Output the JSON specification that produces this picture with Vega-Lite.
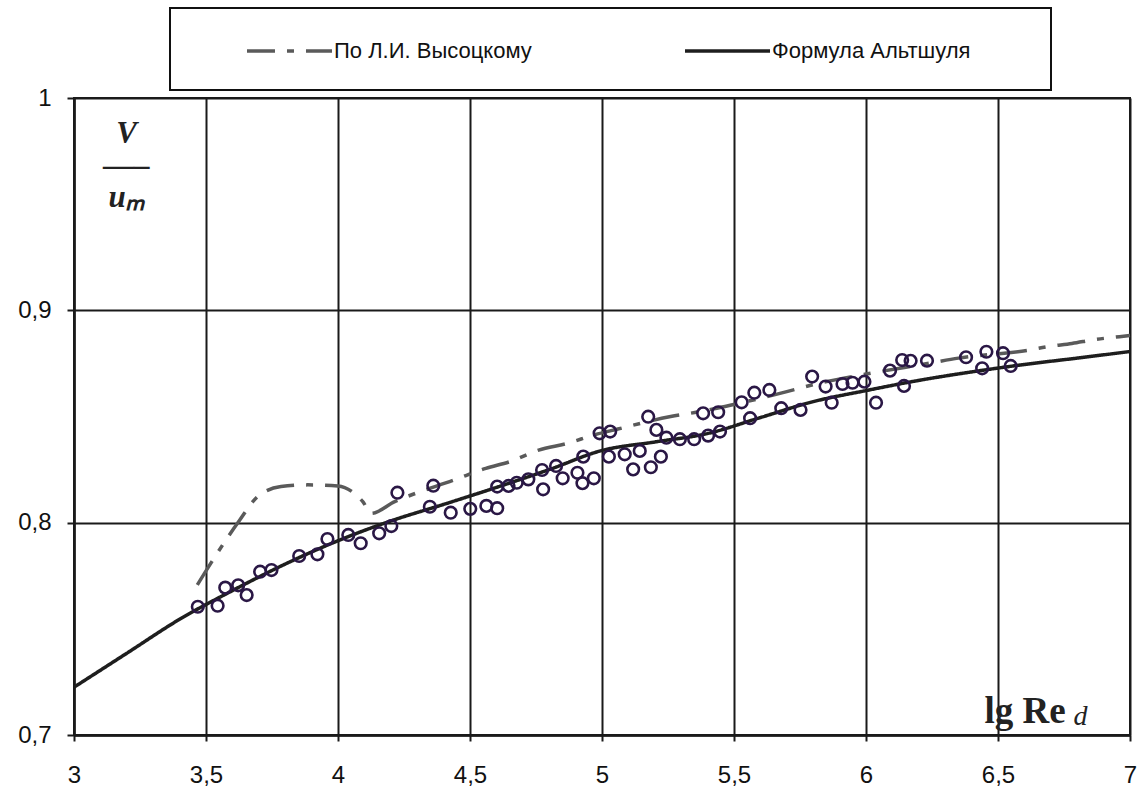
{
  "$schema": "https://vega.github.io/schema/vega-lite/v6.json",
  "width": 1056,
  "height": 637,
  "autosize": "none",
  "padding": {"left": 74, "top": 98, "right": 12, "bottom": 59},
  "background": "white",
  "config": {"view": {"stroke": "#1a1a1a", "strokeWidth": 2}, "font": "Liberation Sans", "legend": {"strokeWidth": 2}},
  "datasets": {
    "points": [
      {"x": 3.469, "y": 0.7604}, {"x": 3.544, "y": 0.7609}, {"x": 3.573, "y": 0.7694}, {"x": 3.622, "y": 0.7705},
      {"x": 3.654, "y": 0.7659}, {"x": 3.705, "y": 0.7769}, {"x": 3.748, "y": 0.7777}, {"x": 3.853, "y": 0.7843},
      {"x": 3.922, "y": 0.7851}, {"x": 3.96, "y": 0.7923}, {"x": 4.039, "y": 0.7942}, {"x": 4.086, "y": 0.7903},
      {"x": 4.156, "y": 0.795}, {"x": 4.202, "y": 0.7984}, {"x": 4.225, "y": 0.8141},
      {"x": 4.361, "y": 0.8174}, {"x": 4.348, "y": 0.8075}, {"x": 4.427, "y": 0.8047}, {"x": 4.501, "y": 0.8065},
      {"x": 4.562, "y": 0.8079}, {"x": 4.603, "y": 0.8068}, {"x": 4.603, "y": 0.817}, {"x": 4.646, "y": 0.8173},
      {"x": 4.677, "y": 0.8188}, {"x": 4.721, "y": 0.8204}, {"x": 4.773, "y": 0.8248}, {"x": 4.777, "y": 0.8157},
      {"x": 4.851, "y": 0.8209}, {"x": 4.826, "y": 0.8267}, {"x": 4.907, "y": 0.8235}, {"x": 4.926, "y": 0.8186},
      {"x": 4.969, "y": 0.8209}, {"x": 4.929, "y": 0.8311}, {"x": 4.991, "y": 0.8421}, {"x": 5.031, "y": 0.8429},
      {"x": 5.026, "y": 0.8311},
      {"x": 5.086, "y": 0.8322}, {"x": 5.118, "y": 0.8251}, {"x": 5.143, "y": 0.8338}, {"x": 5.185, "y": 0.8261},
      {"x": 5.223, "y": 0.8311}, {"x": 5.175, "y": 0.8499}, {"x": 5.206, "y": 0.8437}, {"x": 5.244, "y": 0.84},
      {"x": 5.295, "y": 0.8393}, {"x": 5.349, "y": 0.8393}, {"x": 5.402, "y": 0.841}, {"x": 5.447, "y": 0.8429},
      {"x": 5.383, "y": 0.8515}, {"x": 5.44, "y": 0.852}, {"x": 5.529, "y": 0.8567}, {"x": 5.561, "y": 0.8492},
      {"x": 5.577, "y": 0.8612}, {"x": 5.634, "y": 0.8625}, {"x": 5.679, "y": 0.8539}, {"x": 5.752, "y": 0.8531},
      {"x": 5.796, "y": 0.8688},
      {"x": 5.847, "y": 0.8641}, {"x": 5.87, "y": 0.8565}, {"x": 5.911, "y": 0.8653}, {"x": 5.949, "y": 0.8659},
      {"x": 5.994, "y": 0.8664}, {"x": 6.038, "y": 0.8565}, {"x": 6.091, "y": 0.8716}, {"x": 6.144, "y": 0.8644},
      {"x": 6.137, "y": 0.8766}, {"x": 6.169, "y": 0.8762}, {"x": 6.231, "y": 0.8763}, {"x": 6.379, "y": 0.8779},
      {"x": 6.456, "y": 0.8805}, {"x": 6.44, "y": 0.8727}, {"x": 6.519, "y": 0.8798}, {"x": 6.548, "y": 0.8738}
    ],
    "curves": [
      {"series": "По Л.И. Высоцкому", "x": 3.467, "y": 0.7707},
      {"series": "По Л.И. Высоцкому", "x": 3.53, "y": 0.7832},
      {"series": "По Л.И. Высоцкому", "x": 3.58, "y": 0.7927},
      {"series": "По Л.И. Высоцкому", "x": 3.626, "y": 0.8009},
      {"series": "По Л.И. Высоцкому", "x": 3.695, "y": 0.8122},
      {"series": "По Л.И. Высоцкому", "x": 3.784, "y": 0.817},
      {"series": "По Л.И. Высоцкому", "x": 3.885, "y": 0.8178},
      {"series": "По Л.И. Высоцкому", "x": 4.0, "y": 0.8173},
      {"series": "По Л.И. Высоцкому", "x": 4.062, "y": 0.8138},
      {"series": "По Л.И. Высоцкому", "x": 4.094, "y": 0.8099},
      {"series": "По Л.И. Высоцкому", "x": 4.126, "y": 0.8044},
      {"series": "По Л.И. Высоцкому", "x": 4.215, "y": 0.8099},
      {"series": "По Л.И. Высоцкому", "x": 4.26, "y": 0.8122},
      {"series": "По Л.И. Высоцкому", "x": 4.44, "y": 0.8201},
      {"series": "По Л.И. Высоцкому", "x": 4.56, "y": 0.8256},
      {"series": "По Л.И. Высоцкому", "x": 4.65, "y": 0.8287},
      {"series": "По Л.И. Высоцкому", "x": 4.76, "y": 0.8342},
      {"series": "По Л.И. Высоцкому", "x": 4.87, "y": 0.8374},
      {"series": "По Л.И. Высоцкому", "x": 4.97, "y": 0.8413},
      {"series": "По Л.И. Высоцкому", "x": 5.06, "y": 0.8441},
      {"series": "По Л.И. Высоцкому", "x": 5.26, "y": 0.85},
      {"series": "По Л.И. Высоцкому", "x": 5.37, "y": 0.8523},
      {"series": "По Л.И. Высоцкому", "x": 5.49, "y": 0.8554},
      {"series": "По Л.И. Высоцкому", "x": 5.7, "y": 0.8617},
      {"series": "По Л.И. Высоцкому", "x": 5.82, "y": 0.8656},
      {"series": "По Л.И. Высоцкому", "x": 6.0, "y": 0.87},
      {"series": "По Л.И. Высоцкому", "x": 6.24, "y": 0.8751},
      {"series": "По Л.И. Высоцкому", "x": 6.35, "y": 0.8775},
      {"series": "По Л.И. Высоцкому", "x": 6.61, "y": 0.8811},
      {"series": "По Л.И. Высоцкому", "x": 6.69, "y": 0.8829},
      {"series": "По Л.И. Высоцкому", "x": 6.78, "y": 0.8844},
      {"series": "По Л.И. Высоцкому", "x": 6.87, "y": 0.8863},
      {"series": "По Л.И. Высоцкому", "x": 6.96, "y": 0.8876},
      {"series": "По Л.И. Высоцкому", "x": 7.0, "y": 0.8882},
      {"series": "Формула Альтшуля", "x": 3.0, "y": 0.7225},
      {"series": "Формула Альтшуля", "x": 3.2, "y": 0.7385},
      {"series": "Формула Альтшуля", "x": 3.4, "y": 0.7545},
      {"series": "Формула Альтшуля", "x": 3.6, "y": 0.768},
      {"series": "Формула Альтшуля", "x": 3.8, "y": 0.7805},
      {"series": "Формула Альтшуля", "x": 4.0, "y": 0.7915},
      {"series": "Формула Альтшуля", "x": 4.2, "y": 0.8008},
      {"series": "Формула Альтшуля", "x": 4.4, "y": 0.8086},
      {"series": "Формула Альтшуля", "x": 4.6, "y": 0.8166},
      {"series": "Формула Альтшуля", "x": 4.8, "y": 0.825},
      {"series": "Формула Альтшуля", "x": 5.0, "y": 0.834},
      {"series": "Формула Альтшуля", "x": 5.2, "y": 0.838},
      {"series": "Формула Альтшуля", "x": 5.4, "y": 0.842},
      {"series": "Формула Альтшуля", "x": 5.6, "y": 0.8495},
      {"series": "Формула Альтшуля", "x": 5.8, "y": 0.857},
      {"series": "Формула Альтшуля", "x": 6.0, "y": 0.8622},
      {"series": "Формула Альтшуля", "x": 6.2, "y": 0.867},
      {"series": "Формула Альтшуля", "x": 6.4, "y": 0.871},
      {"series": "Формула Альтшуля", "x": 6.6, "y": 0.8745},
      {"series": "Формула Альтшуля", "x": 6.8, "y": 0.8775},
      {"series": "Формула Альтшуля", "x": 7.0, "y": 0.8806}
    ]
  },
  "layer": [
    {
      "layer": [
        {
          "data": {"name": "curves"},
          "mark": {"type": "line", "interpolate": "monotone", "strokeWidth": 3.5},
          "encoding": {
            "x": {
              "field": "x", "type": "quantitative",
              "scale": {"domain": [3, 7], "nice": false, "zero": false},
              "axis": {
                "values": [3, 3.5, 4, 4.5, 5, 5.5, 6, 6.5, 7],
                "labelExpr": "replace(toString(datum.value), '.', ',')",
                "grid": true, "gridColor": "#1a1a1a", "gridWidth": 2, "gridOpacity": 1,
                "domain": true, "domainColor": "#1a1a1a", "domainWidth": 2.5,
                "ticks": true, "tickSize": 6, "tickColor": "#1a1a1a", "tickWidth": 2,
                "labelFont": "Liberation Sans", "labelFontSize": 24, "labelColor": "#111",
                "labelPadding": 22, "labelFlush": false, "labelOverlap": false,
                "title": "lg Re",
                "titleFont": "Liberation Serif", "titleFontSize": 37, "titleFontWeight": "bold",
                "titleColor": "#222", "titleX": 910, "titleY": -13,
                "titleAlign": "left", "titleBaseline": "alphabetic"
              }
            },
            "y": {
              "field": "y", "type": "quantitative",
              "scale": {"domain": [0.7, 1], "nice": false, "zero": false},
              "axis": {
                "values": [0.7, 0.8, 0.9, 1],
                "labelExpr": "replace(toString(datum.value), '.', ',')",
                "grid": true, "gridColor": "#1a1a1a", "gridWidth": 2, "gridOpacity": 1,
                "domain": true, "domainColor": "#1a1a1a", "domainWidth": 2.5,
                "ticks": true, "tickSize": 7, "tickColor": "#1a1a1a", "tickWidth": 2,
                "labelFont": "Liberation Sans", "labelFontSize": 24, "labelColor": "#111",
                "labelPadding": 16, "labelFlush": false, "labelOverlap": false,
                "title": ["V", "—–", "uₘ"],
                "titleAngle": 0,
                "titleFont": "Liberation Serif", "titleFontSize": 31, "titleFontWeight": "bold",
                "titleFontStyle": "italic", "titleColor": "#222",
                "titleX": 52, "titleY": 44, "titleAlign": "center",
                "titleBaseline": "alphabetic", "titleLineHeight": 32
              }
            },
            "color": {
              "field": "series", "type": "nominal",
              "scale": {"domain": ["По Л.И. Высоцкому", "Формула Альтшуля"], "range": ["#5a5a5a", "#1e1e1e"]},
              "legend": {
                "orient": "none", "legendX": 96, "legendY": -90,
                "direction": "horizontal",
                "title": " ", "titleOrient": "right", "titlePadding": 52, "titleFontSize": 8,
                "symbolType": "M-3.27,0H3.27", "symbolSize": 676, "symbolStrokeWidth": 3.5,
                "symbolOffset": 76.5,
                "labelFont": "Liberation Sans", "labelFontSize": 22, "labelColor": "#111",
                "labelOffset": 29.5, "labelLimit": 500,
                "columnPadding": 104, "padding": 28,
                "strokeColor": "#111", "fillColor": "white"
              }
            },
            "strokeDash": {
              "field": "series", "type": "nominal",
              "scale": {"domain": ["По Л.И. Высоцкому", "Формула Альтшуля"], "range": [[28, 12, 7, 12], [1, 0]]}
            }
          }
        },
        {
          "data": {"name": "points"},
          "mark": {"type": "point", "shape": "circle", "filled": false, "size": 135, "strokeWidth": 2.6, "color": "#2a1745", "opacity": 1},
          "encoding": {
            "x": {"field": "x", "type": "quantitative"},
            "y": {"field": "y", "type": "quantitative"}
          }
        }
      ]
    },
    {
      "data": {"name": "points"},
      "mark": {"type": "point", "opacity": 0},
      "encoding": {
        "y": {
          "field": "y", "type": "quantitative",
          "scale": {"domain": [0.7, 1], "nice": false, "zero": false},
          "axis": {
            "orient": "right", "title": "d", "labels": false, "ticks": false, "domain": false, "grid": false,
            "titleAngle": 0, "titleX": -57, "titleY": 626, "titleAlign": "left", "titleBaseline": "alphabetic",
            "titleFont": "Liberation Serif", "titleFontStyle": "italic", "titleFontWeight": "normal",
            "titleFontSize": 28, "titleColor": "#222"
          }
        }
      }
    }
  ],
  "resolve": {"scale": {"y": "independent"}}
}
